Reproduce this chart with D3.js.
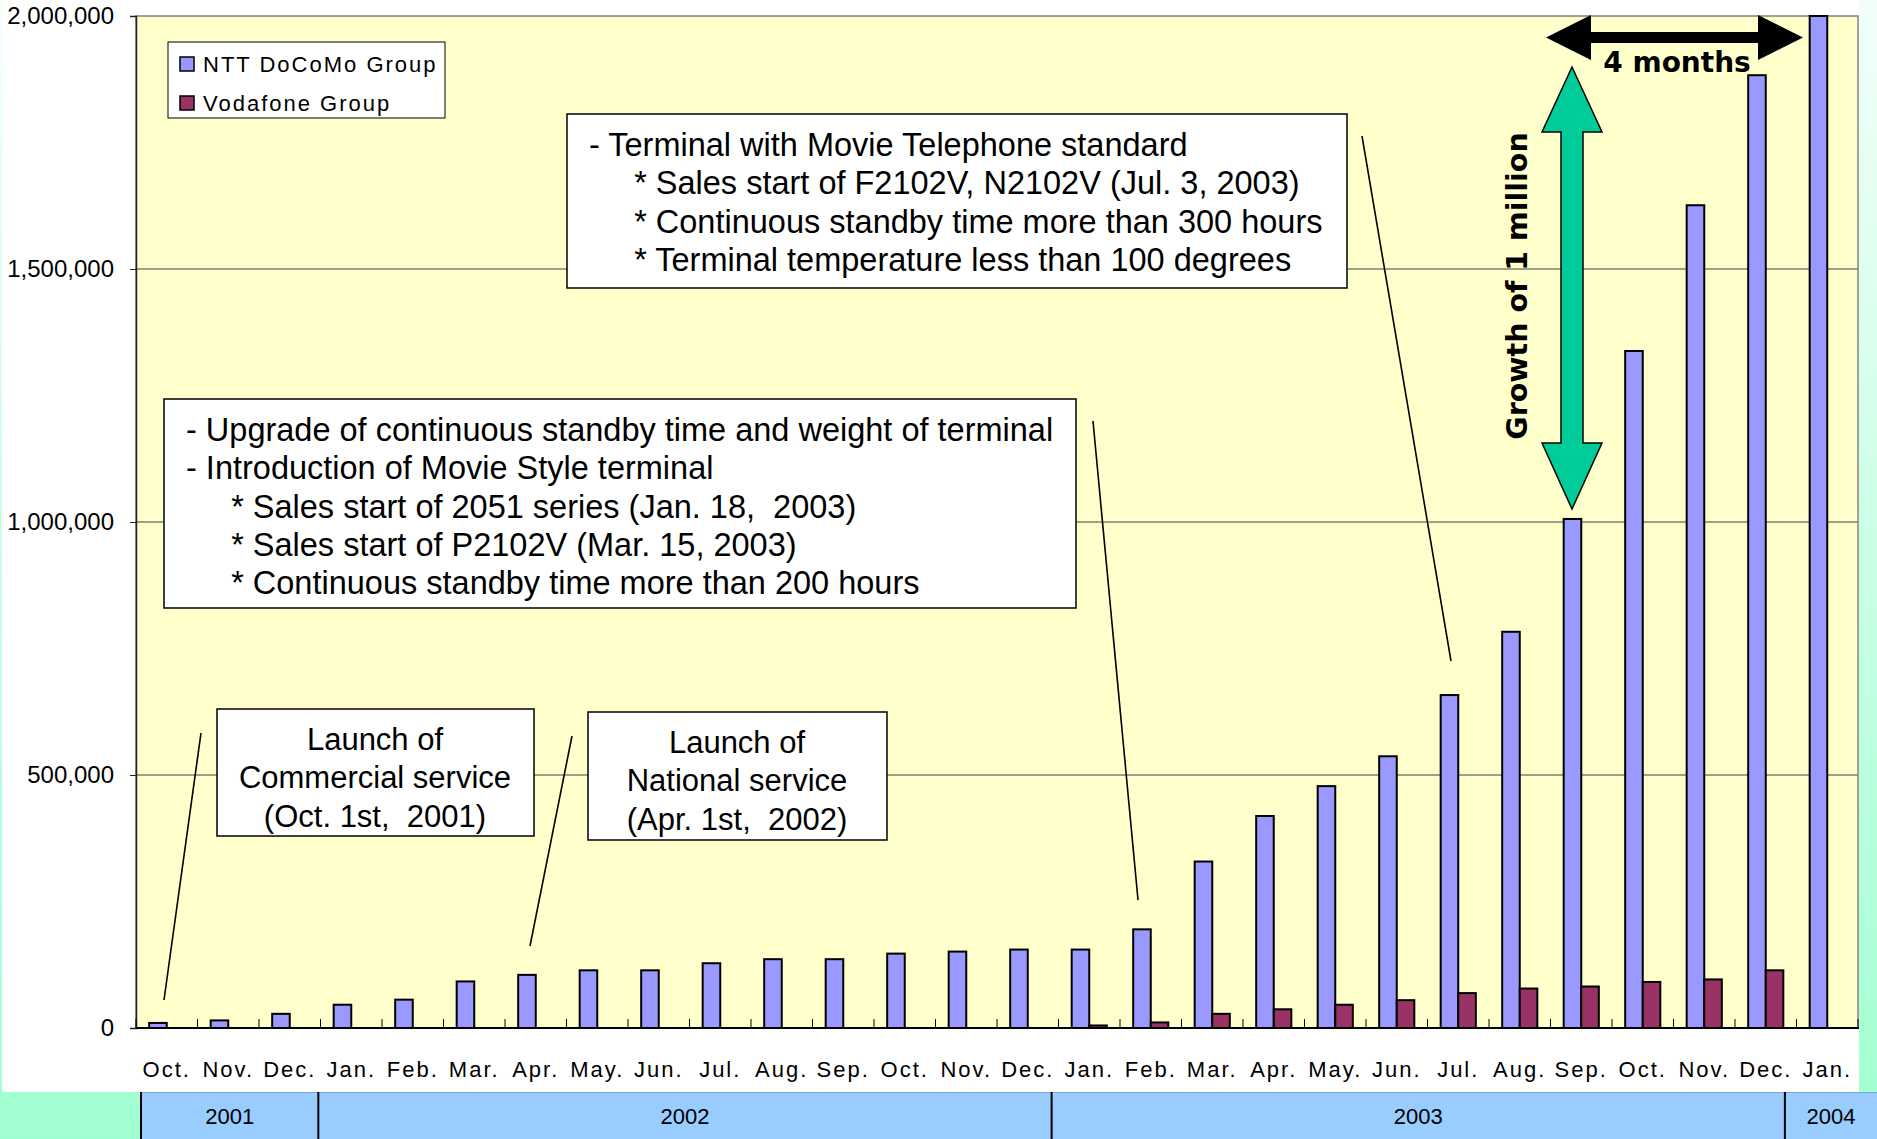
<!DOCTYPE html>
<html>
<head>
<meta charset="utf-8">
<script src="https://cdn.jsdelivr.net/npm/d3@7"></script>
<style>
  html, body { margin: 0; padding: 0; background: #fff; }
  svg { display: block; }
  text { font-family: "Liberation Sans", Arial, sans-serif; }
</style>
</head>
<body>
<svg id="chart" width="1877" height="1139"></svg>
<script>
// months Oct 2001 .. Jan 2004
var months = ["Oct.", "Nov.", "Dec.", "Jan.", "Feb.", "Mar.", "Apr.", "May.", "Jun.", "Jul.",
  "Aug.", "Sep.", "Oct.", "Nov.", "Dec.", "Jan.", "Feb.", "Mar.", "Apr.", "May.",
  "Jun.", "Jul.", "Aug.", "Sep.", "Oct.", "Nov.", "Dec.", "Jan."];

var docomo = [10000, 15000, 28000, 46000, 56000, 92000, 105000, 114000, 114000, 128000,
  136000, 136000, 147000, 151000, 155000, 155000, 195000, 329000, 419000, 478000,
  537000, 658000, 783000, 1006000, 1338000, 1626000, 1883000, 2000000];

var vodafone = [0, 0, 0, 0, 0, 0, 0, 0, 0, 0,
  0, 0, 0, 0, 0, 5000, 11000, 28000, 37000, 46000,
  55000, 69000, 78000, 82000, 91000, 96000, 114000, null];

var seriesNames = ["NTT DoCoMo Group", "Vodafone Group"];
var seriesColors = ["#9999FF", "#993366"];

var yearLabels = ["2001", "2002", "2003", "2004"];
var yearMonths = [3, 12, 12, 1];

var yTicks = [0, 500000, 1000000, 1500000, 2000000];

var notes = [
  { lines: ["- Terminal with Movie Telephone standard",
            "     * Sales start of F2102V, N2102V (Jul. 3, 2003)",
            "     * Continuous standby time more than 300 hours",
            "     * Terminal temperature less than 100 degrees"] },
  { lines: ["- Upgrade of continuous standby time and weight of terminal",
            "- Introduction of Movie Style terminal",
            "     * Sales start of 2051 series (Jan. 18,  2003)",
            "     * Sales start of P2102V (Mar. 15, 2003)",
            "     * Continuous standby time more than 200 hours"] },
  { lines: ["Launch of", "Commercial service", "(Oct. 1st,  2001)"] },
  { lines: ["Launch of", "National service", "(Apr. 1st,  2002)"] }
];

var W = 1877, H = 1139;
var plot = { left: 136, right: 1858, top: 16, bottom: 1028 };

var svg = d3.select("#chart");
var defs = svg.append("defs");
var bg = defs.append("linearGradient").attr("id", "bgGrad")
  .attr("x1", 0).attr("y1", 0).attr("x2", 0).attr("y2", 1);
bg.append("stop").attr("offset", "0%").attr("stop-color", "#F2FFF9");
bg.append("stop").attr("offset", "100%").attr("stop-color", "#A0FFD0");

// slide background
svg.append("rect").attr("width", W).attr("height", H).attr("fill", "url(#bgGrad)");
svg.append("rect").attr("x", 2).attr("y", 0).attr("width", 1857).attr("height", 1092).attr("fill", "#fff");

var x = d3.scaleBand().domain(d3.range(months.length)).range([plot.left, plot.right]);
var xs = d3.scaleBand().domain([0, 1]).range([0, x.bandwidth()]).paddingOuter(0.75);
var y = d3.scaleLinear().domain([0, 2000000]).range([plot.bottom, plot.top]);

// plot area
svg.append("rect")
  .attr("x", plot.left).attr("y", plot.top)
  .attr("width", plot.right - plot.left).attr("height", plot.bottom - plot.top)
  .attr("fill", "#FFFFCC").attr("stroke", "#808080").attr("stroke-width", 1.5);

// gridlines
svg.append("g").selectAll("line")
  .data(yTicks.filter(d => d > 0 && d < 2000000))
  .join("line")
  .attr("x1", plot.left).attr("x2", plot.right)
  .attr("y1", d => y(d)).attr("y2", d => y(d))
  .attr("stroke", "#808070").attr("stroke-width", 1.3);

// y axis
var yAxis = svg.append("g")
  .attr("transform", "translate(" + plot.left + ",0)")
  .call(d3.axisLeft(y).tickValues(yTicks).tickSize(6).tickPadding(16).tickFormat(d3.format(",")));
yAxis.select(".domain").attr("stroke", "#222").attr("stroke-width", 1.5);
yAxis.selectAll(".tick line").attr("stroke", "#222");
yAxis.selectAll("text").attr("font-size", 24).attr("fill", "#000")
  .style("font-family", "'Liberation Sans', Arial, sans-serif");

// category ticks (inside)
svg.append("g").selectAll("line")
  .data(d3.range(months.length + 1))
  .join("line")
  .attr("x1", i => plot.left + i * x.step()).attr("x2", i => plot.left + i * x.step())
  .attr("y1", plot.bottom).attr("y2", plot.bottom - 9)
  .attr("stroke", "#000").attr("stroke-width", 1);

// bars
var series = [docomo, vodafone];
series.forEach(function (vals, s) {
  svg.append("g").selectAll("rect")
    .data(vals.map((v, i) => ({ i: i, v: v })).filter(d => d.v != null && d.v > 0))
    .join("rect")
    .attr("x", d => x(d.i) + xs(s))
    .attr("width", xs.bandwidth())
    .attr("y", d => y(d.v))
    .attr("height", d => y(0) - y(d.v))
    .attr("fill", seriesColors[s])
    .attr("stroke", "#000").attr("stroke-width", 2);
});

// bottom axis line
svg.append("line")
  .attr("x1", plot.left).attr("x2", plot.right + 1)
  .attr("y1", plot.bottom).attr("y2", plot.bottom)
  .attr("stroke", "#000").attr("stroke-width", 2);

// month labels
svg.append("g").selectAll("text")
  .data(months)
  .join("text")
  .attr("x", (d, i) => x(i) + x.bandwidth() / 2)
  .attr("y", 1077)
  .attr("text-anchor", "middle")
  .attr("font-size", 22)
  .attr("letter-spacing", 2)
  .text(d => d);

// year band
var bandX = d3.scaleLinear().domain([0, months.length]).range([135, 1846]);
var yearG = svg.append("g");
yearG.append("rect").attr("x", 141).attr("y", 1092).attr("width", W - 141).attr("height", H - 1092)
  .attr("fill", "#99CCFF");
yearG.append("line").attr("x1", 141).attr("x2", W).attr("y1", 1092.5).attr("y2", 1092.5)
  .attr("stroke", "#7aa6d6").attr("stroke-width", 1);
var cum = [0];
yearMonths.forEach(m => cum.push(cum[cum.length - 1] + m));
var edges = cum.map((c, i) => i === 0 ? 141 : (i === cum.length - 1 ? W : bandX(c)));
yearG.selectAll("line.div")
  .data(edges.slice(0, -1))
  .join("line").attr("class", "div")
  .attr("x1", d => d).attr("x2", d => d)
  .attr("y1", 1092).attr("y2", H)
  .attr("stroke", "#000").attr("stroke-width", 2);
yearG.selectAll("text")
  .data(yearLabels)
  .join("text")
  .attr("x", (d, i) => (edges[i] + edges[i + 1]) / 2)
  .attr("y", 1124)
  .attr("text-anchor", "middle")
  .attr("font-size", 22)
  .text(d => d);

// legend
var lg = svg.append("g");
lg.append("rect").attr("x", 168).attr("y", 42).attr("width", 277).attr("height", 76)
  .attr("fill", "#fff").attr("stroke", "#000").attr("stroke-width", 1);
seriesNames.forEach(function (name, s) {
  lg.append("rect").attr("x", 180).attr("y", 57 + s * 39).attr("width", 14).attr("height", 14)
    .attr("fill", seriesColors[s]).attr("stroke", "#000").attr("stroke-width", 1.5);
  lg.append("text").attr("x", 203).attr("y", 72 + s * 39)
    .attr("font-size", 22).attr("letter-spacing", 2).text(name);
});

// leader lines
var leaders = [[201, 733, 164, 1000], [572, 736, 530, 946], [1093, 421, 1138, 900], [1362, 136, 1451, 661]];
svg.append("g").selectAll("line").data(leaders).join("line")
  .attr("x1", d => d[0]).attr("y1", d => d[1]).attr("x2", d => d[2]).attr("y2", d => d[3])
  .attr("stroke", "#000").attr("stroke-width", 1.6);

// note boxes
var boxes = [
  { x: 567, y: 114, w: 780, h: 174, tx: 589, ty: 156, size: 32.5, anchor: "start" },
  { x: 164, y: 399, w: 912, h: 209, tx: 186, ty: 441, size: 32.5, anchor: "start" },
  { x: 217, y: 709, w: 317, h: 127, tx: 375, ty: 750, size: 31, anchor: "middle" },
  { x: 588, y: 712, w: 299, h: 128, tx: 737, ty: 753, size: 31, anchor: "middle" }
];
boxes.forEach(function (b, k) {
  var g = svg.append("g");
  g.append("rect").attr("x", b.x).attr("y", b.y).attr("width", b.w).attr("height", b.h)
    .attr("fill", "#fff").attr("stroke", "#000").attr("stroke-width", 1.5);
  g.selectAll("text").data(notes[k].lines).join("text")
    .attr("x", b.tx).attr("y", (d, i) => b.ty + i * 38.3)
    .attr("text-anchor", b.anchor)
    .attr("font-size", b.size)
    .style("white-space", "pre")
    .text(d => d);
});

// "4 months" black double arrow
var bx1 = 1546, bx2 = 1803, bcy = 37.5;
svg.append("path")
  .attr("d", "M" + bx1 + "," + bcy + " L" + (bx1 + 45) + "," + (bcy - 22.5) + " L" + (bx1 + 45) + "," + (bcy - 5.5) +
    " L" + (bx2 - 45) + "," + (bcy - 5.5) + " L" + (bx2 - 45) + "," + (bcy - 22.5) + " L" + bx2 + "," + bcy +
    " L" + (bx2 - 45) + "," + (bcy + 22.5) + " L" + (bx2 - 45) + "," + (bcy + 5.5) +
    " L" + (bx1 + 45) + "," + (bcy + 5.5) + " L" + (bx1 + 45) + "," + (bcy + 22.5) + " Z")
  .attr("fill", "#000");
svg.append("text").attr("x", 1677).attr("y", 72).attr("text-anchor", "middle")
  .attr("font-size", 28).attr("font-weight", "bold")
  .style("font-family", "'DejaVu Sans', Verdana, sans-serif")
  .text("4 months");

// green vertical double arrow
var gx = 1572, gy1 = 67, gy2 = 509;
svg.append("path")
  .attr("d", "M" + gx + "," + gy1 + " L" + (gx + 30) + "," + (gy1 + 65) + " L" + (gx + 11) + "," + (gy1 + 65) +
    " L" + (gx + 11) + "," + (gy2 - 66) + " L" + (gx + 30) + "," + (gy2 - 66) + " L" + gx + "," + gy2 +
    " L" + (gx - 30) + "," + (gy2 - 66) + " L" + (gx - 11) + "," + (gy2 - 66) +
    " L" + (gx - 11) + "," + (gy1 + 65) + " L" + (gx - 30) + "," + (gy1 + 65) + " Z")
  .attr("fill", "#00CC99").attr("stroke", "#000").attr("stroke-width", 1.5);
svg.append("text")
  .attr("transform", "translate(1527,286) rotate(-90)")
  .attr("text-anchor", "middle")
  .attr("font-size", 28.5).attr("font-weight", "bold")
  .style("font-family", "'DejaVu Sans', Verdana, sans-serif")
  .text("Growth of 1 million");
</script>
</body>
</html>
